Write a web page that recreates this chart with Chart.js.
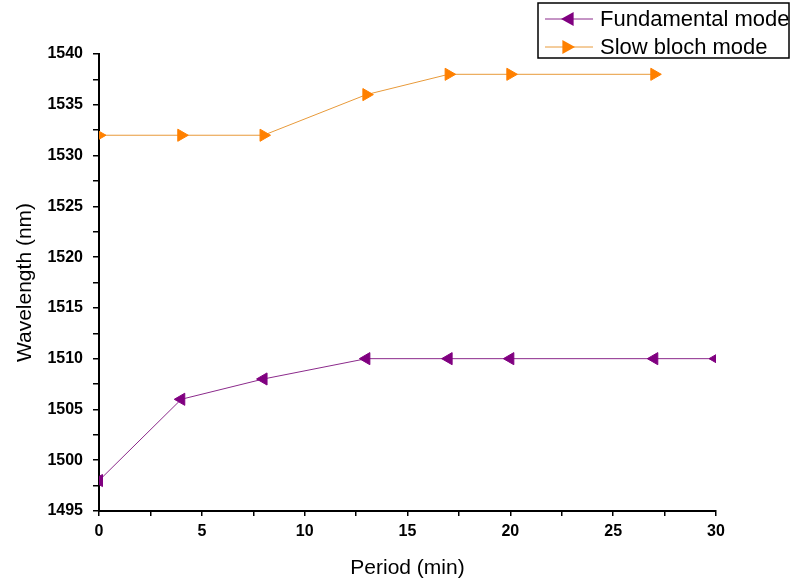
<!DOCTYPE html>
<html>
<head>
<meta charset="utf-8">
<script src="https://cdn.jsdelivr.net/npm/chart.js@4"></script>
<style>
  body { margin: 0; background: #fff; }
  #wrap { width: 792px; height: 583px; }
</style>
</head>
<body>
<div id="wrap"><canvas id="chart" width="792" height="583"></canvas></div>
<script>
// values
const fundPeriod = [0, 4, 8, 13, 17, 20, 27, 30];
const fundWave = [1498, 1506, 1508, 1510, 1510, 1510, 1510, 1510];
const slowPeriod = [0, 4, 8, 13, 17, 20, 27];
const slowWave = [1532, 1532, 1532, 1536, 1538, 1538, 1538];
const seriesNames = ['Fundamental mode', 'Slow bloch mode'];

const toPoints = (xs, ys) => xs.map((x, i) => ({x: x, y: ys[i]}));

// boxed legend in the top right corner, drawn by hand
const boxLegend = {
  id: 'boxLegend',
  afterDraw(chart) {
    const c = chart.ctx;
    const x0 = 538, y0 = 3, w = 251, h = 55;
    c.save();
    c.fillStyle = '#fff';
    c.fillRect(x0, y0, w, h);
    c.strokeStyle = '#000';
    c.lineWidth = 1.5;
    c.strokeRect(x0, y0, w, h);
    chart.data.datasets.forEach((ds, i) => {
      const y = y0 + 16 + i * 28;
      c.strokeStyle = ds.borderColor;
      c.lineWidth = 1;
      c.beginPath();
      c.moveTo(x0 + 7, y);
      c.lineTo(x0 + 55, y);
      c.stroke();
      // triangle marker
      c.fillStyle = ds.pointBackgroundColor;
      c.beginPath();
      const mx = x0 + 30, r = 7;
      const dir = ds.pointRotation === 90 ? 1 : -1;
      c.moveTo(mx + dir * r, y);
      c.lineTo(mx - dir * r * 0.8, y - r);
      c.lineTo(mx - dir * r * 0.8, y + r);
      c.closePath();
      c.fill();
      c.fillStyle = '#000';
      c.font = '22px "Liberation Sans", Arial, sans-serif';
      c.textBaseline = 'middle';
      c.fillText(ds.label, x0 + 62, y + 1);
    });
    c.restore();
  }
};

const axisFont = {family: '"Liberation Sans", Arial, sans-serif', size: 16, weight: 'bold'};
const titleFont = {family: '"Liberation Sans", Arial, sans-serif', size: 21};

new Chart(document.getElementById('chart'), {
  type: 'line',
  data: {
    datasets: [{
      label: seriesNames[0],
      data: toPoints(fundPeriod, fundWave),
      borderColor: '#8b2a8b',
      borderWidth: 1,
      pointStyle: 'triangle',
      pointRotation: -90,
      pointRadius: 7,
      pointBackgroundColor: '#800080',
      pointBorderColor: '#800080',
      pointBorderWidth: 1,
      tension: 0
    }, {
      label: seriesNames[1],
      data: toPoints(slowPeriod, slowWave),
      borderColor: '#e89a3a',
      borderWidth: 1,
      pointStyle: 'triangle',
      pointRotation: 90,
      pointRadius: 7,
      pointBackgroundColor: '#ff8000',
      pointBorderColor: '#ff8000',
      pointBorderWidth: 1,
      tension: 0
    }]
  },
  options: {
    responsive: false,
    animation: false,
    layout: {padding: {top: 54, right: 76, left: 0, bottom: 0}},
    plugins: {legend: {display: false}, tooltip: {enabled: false}},
    scales: {
      x: {
        type: 'linear',
        min: 0, max: 30,
        afterFit(s) { s.height = 72; },
        ticks: {
          stepSize: 2.5,
          color: '#000',
          font: axisFont,
          padding: 6,
          maxRotation: 0,
          autoSkip: false,
          callback: v => (v % 5 === 0 ? v : '')
        },
        grid: {drawOnChartArea: false, color: '#000', tickLength: 5, lineWidth: 1.5},
        border: {color: '#000', width: 2},
        title: {display: true, text: 'Period (min)', color: '#000', font: titleFont, padding: {top: 0, bottom: 2}}
      },
      y: {
        type: 'linear',
        min: 1495, max: 1540,
        afterFit(s) { s.width = 99; },
        ticks: {
          stepSize: 2.5,
          color: '#000',
          font: axisFont,
          padding: 10,
          autoSkip: false,
          callback: v => (v % 5 === 0 ? v : '')
        },
        grid: {drawOnChartArea: false, color: '#000', tickLength: 6, lineWidth: 1.5},
        border: {color: '#000', width: 2},
        title: {display: true, text: 'Wavelength (nm)', color: '#000', font: titleFont, padding: {top: 13, bottom: 0}}
      }
    }
  },
  plugins: [boxLegend]
});
</script>
</body>
</html>
